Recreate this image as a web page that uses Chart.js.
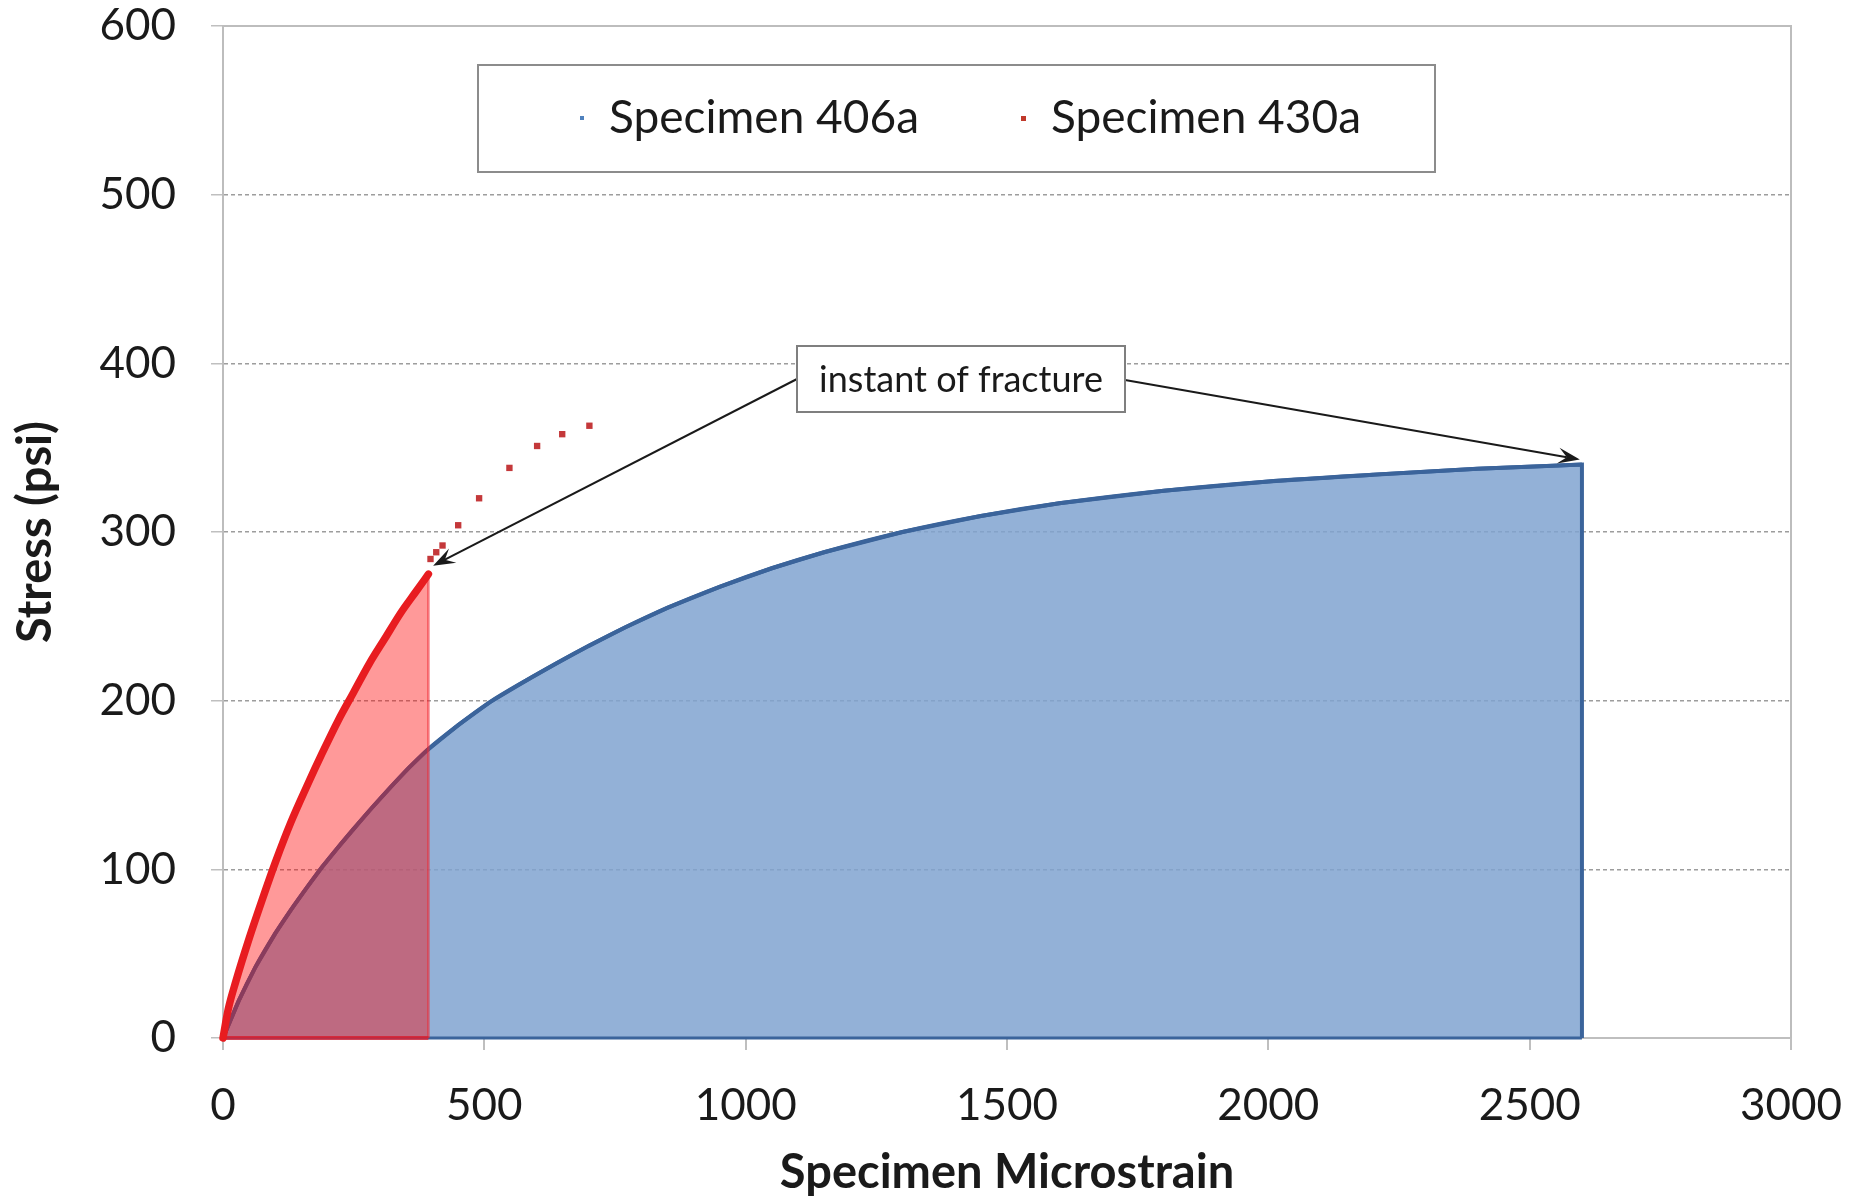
<!DOCTYPE html>
<html lang="en">
<head>
<meta charset="UTF-8">
<title>Stress vs Specimen Microstrain</title>
<script src="https://cdn.jsdelivr.net/npm/chart.js"></script>
<style>
  body { margin: 0; background: #fff; }
  #wrap { width: 1852px; height: 1196px; }
</style>
</head>
<body>
<div id="wrap"><canvas id="myChart" width="1852" height="1196"></canvas></div>
<script>
// Specimen 406a (blue)
const strain406 = [0, 15, 30, 62, 100, 130, 160, 190, 220, 250, 285, 320, 355, 390, 450, 510, 580, 640, 700, 770, 850, 950, 1050, 1150, 1300, 1450, 1600, 1800, 2000, 2200, 2400, 2600];
const stress406 = [0, 11, 22, 42, 62, 76, 89, 101.5, 113, 124, 136.5, 148.5, 160, 170.5, 185.5, 199, 212, 222.5, 232.5, 243.5, 255, 267.5, 278.5, 288, 300, 309.5, 317, 324.5, 330, 334, 337.5, 340];

// Specimen 430a (red) up to fracture
const strain430 = [0, 10, 25, 50, 75, 100, 130, 160, 190, 220, 250, 280, 310, 340, 370, 393];
const stress430 = [0, 17, 34, 59, 82, 104, 128, 149, 169, 188, 205, 222, 237, 252, 265, 275];

// Specimen 430a, points recorded after fracture
const strain430b = [397, 408, 420, 450, 490, 548, 601, 649, 701];
const stress430b = [284, 288, 292, 304, 320, 338, 351, 358, 363];

const xTicks = [0, 500, 1000, 1500, 2000, 2500, 3000];
const yTicks = [0, 100, 200, 300, 400, 500, 600];
const seriesNames = ['Specimen 406a', 'Specimen 430a'];

// arrow targets (strain, stress)
const tip430 = [402, 280];
const tip406 = [2596, 343];

const BLUE_LINE = '#3B649B';
const RED_LINE = '#E81C20';
const GRID = 'rgba(140,140,140,0.85)';

function pts(xs, ys) {
    return xs.map((x, i) => ({ x: x, y: ys[i] }));
}
// closed outlines: curve, then straight down to the axis
const last406 = strain406[strain406.length - 1];
const last430 = strain430[strain430.length - 1];
const area406 = pts(strain406, stress406).concat([{ x: last406, y: 0 }]);
const area430 = pts(strain430, stress430).concat([{ x: last430, y: 0 }]);

Chart.defaults.font.family = 'Lato';
Chart.defaults.color = '#1a1a1a';

function arrow(ctx, x1, y1, x2, y2) {
    const a = Math.atan2(y2 - y1, x2 - x1);
    const c = Math.cos(a), s = Math.sin(a);
    const len = 22, w = 8;
    ctx.beginPath();
    ctx.moveTo(x1, y1);
    ctx.lineTo(x2 - len * 0.6 * c, y2 - len * 0.6 * s);
    ctx.stroke();
    ctx.beginPath();
    ctx.moveTo(x2, y2);
    ctx.lineTo(x2 - len * c - w * s, y2 - len * s + w * c);
    ctx.lineTo(x2 - len * 0.6 * c, y2 - len * 0.6 * s);
    ctx.lineTo(x2 - len * c + w * s, y2 - len * s - w * c);
    ctx.closePath();
    ctx.fill();
}

const decor = {
    id: 'decor',
    beforeDatasetsDraw(chart) {
        const { ctx, chartArea: ca } = chart;
        ctx.save();
        ctx.strokeStyle = '#BDBDBD';
        ctx.lineWidth = 2;
        ctx.beginPath();
        ctx.moveTo(ca.left, ca.top);
        ctx.lineTo(ca.right, ca.top);
        ctx.lineTo(ca.right, ca.bottom);
        ctx.stroke();
        ctx.restore();
    },
    afterDraw(chart) {
        const { ctx, chartArea: ca } = chart;
        const xs = chart.scales.x, ys = chart.scales.y;
        ctx.save();

        // legend box
        const lx = ca.left + 255, ly = ca.top + 39, lw = 957, lh = 107;
        ctx.fillStyle = '#fff';
        ctx.fillRect(lx, ly, lw, lh);
        ctx.strokeStyle = '#8C8C8C';
        ctx.lineWidth = 2;
        ctx.strokeRect(lx, ly, lw, lh);
        ctx.font = '46px Lato';
        ctx.textBaseline = 'middle';
        ctx.textAlign = 'left';
        const my = ly + 53;
        ctx.fillStyle = '#4F81BD';
        ctx.fillRect(lx + 102, my - 2, 4, 4);
        ctx.fillStyle = '#C0392B';
        ctx.fillRect(lx + 543, my - 2, 5, 5);
        ctx.fillStyle = '#1a1a1a';
        ctx.fillText(seriesNames[0], lx + 131, my);
        ctx.fillText(seriesNames[1], lx + 573, my);

        // annotation
        const bx = ca.left + 574, by = ca.top + 320, bw = 328, bh = 66;
        ctx.strokeStyle = '#1a1a1a';
        ctx.fillStyle = '#1a1a1a';
        ctx.lineWidth = 2;
        arrow(ctx, bx, by + 33, xs.getPixelForValue(tip430[0]), ys.getPixelForValue(tip430[1]));
        arrow(ctx, bx + bw, by + 34, xs.getPixelForValue(tip406[0]), ys.getPixelForValue(tip406[1]));
        ctx.fillStyle = '#fff';
        ctx.fillRect(bx, by, bw, bh);
        ctx.strokeStyle = '#7F7F7F';
        ctx.strokeRect(bx, by, bw, bh);
        ctx.fillStyle = '#1a1a1a';
        ctx.font = '36px Lato';
        ctx.textAlign = 'center';
        ctx.fillText('instant of fracture', bx + bw / 2, by + bh / 2 + 1);
        ctx.restore();
    }
};

const data = {
    datasets: [
        {
            label: seriesNames[0],
            data: area406,
            showLine: true,
            fill: 'origin',
            backgroundColor: 'rgba(128,163,208,0.85)',
            borderColor: BLUE_LINE,
            borderWidth: 4,
            pointRadius: 0,
            clip: false,
            order: 8
        },
        {
            label: '406a curve',
            data: pts(strain406, stress406),
            showLine: true,
            cubicInterpolationMode: 'monotone',
            borderColor: BLUE_LINE,
            borderWidth: 4,
            pointRadius: 0,
            clip: false,
            order: 7
        },
        {
            label: '406a base',
            data: pts([0, last406], [0, 0]),
            showLine: true,
            borderColor: BLUE_LINE,
            borderWidth: 3,
            pointRadius: 0,
            clip: false,
            order: 6
        },
        {
            label: seriesNames[1],
            data: area430,
            showLine: true,
            fill: 'origin',
            backgroundColor: 'rgba(255,0,0,0.4)',
            borderColor: 'rgba(240,40,50,0.6)',
            borderWidth: 2.5,
            pointRadius: 0,
            clip: false,
            order: 5
        },
        {
            label: '430a base',
            data: pts([0, last430], [0, 0]),
            showLine: true,
            borderColor: 'rgba(225,30,45,0.75)',
            borderWidth: 4,
            pointRadius: 0,
            clip: false,
            order: 4
        },
        {
            label: '430a curve',
            data: pts(strain430, stress430),
            showLine: true,
            cubicInterpolationMode: 'monotone',
            borderColor: RED_LINE,
            borderWidth: 7.5,
            borderCapStyle: 'round',
            pointRadius: 0,
            clip: false,
            order: 3
        },
        {
            label: '430a after fracture',
            data: pts(strain430b, stress430b),
            showLine: false,
            pointStyle: 'rect',
            pointRadius: 4.5,
            backgroundColor: '#C4383A',
            borderColor: '#C4383A',
            borderWidth: 0,
            order: 2
        }
    ]
};

const config = {
    type: 'scatter',
    data: data,
    plugins: [decor],
    options: {
        responsive: false,
        animation: false,
        devicePixelRatio: 1,
        layout: { padding: { left: 0, top: 26, right: 61, bottom: 0 } },
        plugins: {
            legend: { display: false },
            tooltip: { enabled: false }
        },
        scales: {
            x: {
                type: 'linear',
                min: 0,
                max: 3000,
                afterBuildTicks: s => { s.ticks = xTicks.map(v => ({ value: v })); },
                afterFit: s => { s.height = 158; s.paddingLeft = 0; s.paddingRight = 0; },
                ticks: { font: { size: 44 }, padding: 29, maxRotation: 0, callback: v => String(v) },
                grid: { drawOnChartArea: false, drawTicks: true, tickLength: 12, color: '#BFBFBF', lineWidth: 2 },
                border: { color: '#BFBFBF', width: 2 },
                title: {
                    display: true,
                    text: 'Specimen Microstrain',
                    font: { size: 47, weight: 'bold', lineHeight: 1 },
                    padding: { top: 0, bottom: 0 }
                }
            },
            y: {
                type: 'linear',
                min: 0,
                max: 600,
                afterBuildTicks: s => { s.ticks = yTicks.map(v => ({ value: v })); },
                afterFit: s => { s.width = 223; s.paddingTop = 0; s.paddingBottom = 0; },
                ticks: { font: { size: 44 }, padding: 35, callback: v => String(v) },
                grid: { color: GRID, lineWidth: 1.5, tickLength: 12, tickColor: '#BFBFBF' },
                border: { color: '#BDBDBD', width: 2, dash: [4, 3] },
                title: {
                    display: true,
                    text: 'Stress (psi)',
                    font: { size: 47, weight: 'bold', lineHeight: 1 },
                    padding: { top: 12, bottom: 0 }
                }
            }
        }
    }
};

config.options.scales.y.grid.borderDash = [4, 3];

const myChart = new Chart(document.getElementById('myChart'), config);
</script>
</body>
</html>
